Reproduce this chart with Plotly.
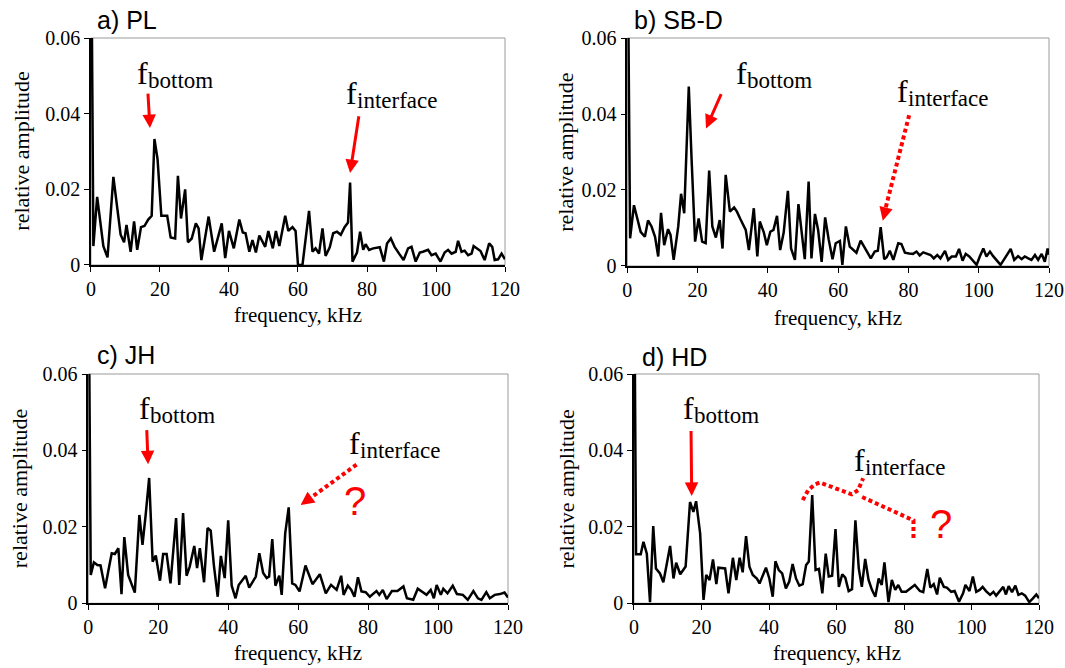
import plotly.graph_objects as go
from plotly.subplots import make_subplots

# spectra (frequency in kHz, relative amplitude)
pl_freq = [0, 0.7, 1.8, 3.6, 4.8, 6.5, 7.7, 8.6, 9.6, 10.3, 11.5, 12.5, 13.4, 14.5, 15.5, 16.6, 17.6, 18.4, 19.3,
           20.4, 22.1, 23.1, 24.4, 25.2, 26.1, 27.3, 28.1, 29.2, 30.4, 31.2, 32.0, 34.1, 35.7, 37.9, 38.9, 40.0,
           41.4, 43.0, 44.0, 44.8, 45.9, 46.8, 47.8, 48.8, 50.5, 51.4, 52.7, 53.6, 54.6, 56.3, 57.2, 58.4, 59.3,
           60.0, 61.3, 63.2, 64.2, 65.1, 66.1, 67.1, 68.0, 69.2, 70.2, 71.3, 72.4, 73.5, 74.5, 75.1, 75.8, 77.1,
           78.0, 78.9, 79.6, 80.6, 81.8, 83.7, 84.9, 85.8, 86.9, 88.0, 89.3, 90.6, 91.9, 92.9, 94.1, 95.3, 96.2,
           97.7, 98.7, 99.9, 101.3, 102.5, 103.5, 104.5, 105.7, 106.4, 107.4, 108.3, 109.3, 110.3, 110.9, 111.9,
           112.9, 114.1, 115.4, 116.3, 117.0, 118.0, 119.0, 120.0]
pl_amp = [0.10, 0.005, 0.018, 0.005, 0.002, 0.0233, 0.0145, 0.008, 0.006, 0.0106, 0.0035, 0.0115, 0.004, 0.010,
          0.0103, 0.012, 0.013, 0.0333, 0.028, 0.013, 0.013, 0.0073, 0.007, 0.0236, 0.0123, 0.020, 0.006, 0.007,
          0.011, 0.0097, 0.0013, 0.0128, 0.0035, 0.011, 0.0018, 0.009, 0.0044, 0.012, 0.0086, 0.0084, 0.0035,
          0.0066, 0.0033, 0.0078, 0.0048, 0.009, 0.0044, 0.009, 0.005, 0.013, 0.009, 0.010, 0.009, 0.0, 0.0,
          0.0143, 0.0035, 0.0044, 0.003, 0.0097, 0.0024, 0.0047, 0.0084, 0.0088, 0.008, 0.010, 0.0112, 0.0218,
          0.0009, 0.0033, 0.0088, 0.004, 0.0055, 0.004, 0.0044, 0.0047, 0.0009, 0.0057, 0.007, 0.0048, 0.003,
          0.0013, 0.0044, 0.0048, 0.0009, 0.0033, 0.0035, 0.004, 0.0026, 0.003, 0.0009, 0.0033, 0.004, 0.003,
          0.0035, 0.0064, 0.0035, 0.0038, 0.0026, 0.003, 0.005, 0.0044, 0.0037, 0.0013, 0.0057, 0.0048, 0.0013,
          0.0015, 0.003, 0.0015]

sbd_freq = [0, 0.8, 1.9, 2.8, 3.8, 5.0, 5.9, 6.9, 7.9, 8.8, 9.6, 10.5, 11.6, 12.3, 13.2, 14.5, 15.3, 16.2, 17.5,
            18.3, 19.3, 20.3, 21.3, 22.3, 23.3, 24.2, 25.2, 26.3, 27.1, 28.0, 29.2, 30.4, 31.2, 32.2, 33.7, 34.6,
            36.0, 37.0, 37.7, 38.8, 39.7, 40.7, 41.6, 42.6, 43.5, 44.5, 45.7, 46.6, 47.7, 48.7, 49.8, 50.5, 51.6,
            52.4, 53.4, 54.3, 55.3, 56.3, 57.3, 58.4, 59.3, 60.5, 61.2, 62.2, 63.3, 64.3, 65.2, 66.4, 67.6, 69.3,
            70.4, 71.3, 72.1, 73.1, 73.8, 74.7, 75.7, 77.1, 78.0, 79.0, 80.2, 81.3, 82.3, 83.2, 84.2, 85.3, 86.3,
            87.2, 88.2, 89.1, 90.4, 91.3, 92.3, 93.5, 94.4, 95.4, 96.3, 97.3, 98.2, 99.4, 100.3, 101.3, 102.2,
            103.2, 104.1, 105.1, 106.2, 107.4, 109.1, 110.1, 111.2, 112.2, 113.1, 114.1, 115.0, 116.0, 116.9,
            117.9, 118.8, 119.6, 120.0]
sbd_amp = [0.10, 0.0073, 0.016, 0.013, 0.009, 0.0077, 0.012, 0.0104, 0.0077, 0.0025, 0.014, 0.0055, 0.0097,
           0.0082, 0.0016, 0.0104, 0.019, 0.0139, 0.0472, 0.028, 0.0064, 0.0125, 0.0064, 0.006, 0.0251, 0.0104,
           0.0075, 0.0121, 0.0046, 0.024, 0.0143, 0.0154, 0.0143, 0.0123, 0.0095, 0.0042, 0.0152, 0.0025, 0.0117,
           0.009, 0.0055, 0.009, 0.0095, 0.0132, 0.0042, 0.0088, 0.0198, 0.0046, 0.0016, 0.0163, 0.0068, 0.0018,
           0.0222, 0.002, 0.0137, 0.0095, 0.0011, 0.0128, 0.007, 0.0018, 0.006, 0.0066, 0.0003, 0.0104, 0.0051,
           0.0042, 0.0035, 0.0067, 0.0046, 0.002, 0.0038, 0.004, 0.0102, 0.0018, 0.0023, 0.004, 0.0016, 0.006,
           0.0058, 0.0035, 0.0033, 0.0032, 0.0038, 0.0028, 0.0036, 0.0033, 0.0029, 0.002, 0.0029, 0.002, 0.004,
           0.0016, 0.0025, 0.0025, 0.0045, 0.0014, 0.0032, 0.0025, 0.0016, 0.0003, 0.0025, 0.0046, 0.0025, 0.0038,
           0.0026, 0.0016, 0.0003, 0.002, 0.0045, 0.0016, 0.0026, 0.0018, 0.0025, 0.002, 0.0016, 0.0029, 0.0016,
           0.0032, 0.0011, 0.0046, 0.003]

jh_freq = [0, 0.7, 1.6, 2.6, 3.5, 4.8, 5.7, 6.7, 7.6, 8.6, 9.5, 10.3, 11.4, 12.4, 13.3, 14.6, 15.5, 16.4, 17.4,
           18.4, 19.3, 20.5, 21.4, 22.4, 23.5, 25.1, 26.0, 27.1, 28.1, 29.0, 30.3, 31.1, 31.9, 33.1, 34.1, 35.0,
           35.9, 37.0, 37.9, 39.0, 40.0, 41.0, 42.1, 43.0, 45.0, 46.0, 47.9, 48.9, 50.0, 51.0, 51.7, 52.6, 53.5,
           54.6, 55.3, 56.3, 57.3, 58.3, 59.2, 60.4, 62.1, 64.1, 66.2, 67.9, 69.4, 71.0, 72.3, 73.0, 74.2, 75.2,
           76.1, 77.1, 78.1, 79.3, 80.5, 81.6, 82.4, 83.2, 84.2, 85.3, 86.8, 88.4, 90.1, 91.1, 92.9, 94.2, 95.5,
           96.7, 97.9, 98.8, 99.6, 100.8, 101.5, 102.7, 104.2, 105.4, 107.1, 108.5, 110.1, 111.4, 112.4, 113.8,
           114.8, 116.2, 117.7, 119.0, 120.0]
jh_amp = [0.10, 0.0074, 0.0107, 0.010, 0.0099, 0.0039, 0.0083, 0.0131, 0.0129, 0.0144, 0.0024, 0.0173, 0.0074,
          0.0048, 0.0028, 0.0231, 0.0153, 0.0231, 0.0328, 0.0109, 0.0125, 0.0059, 0.0129, 0.0129, 0.0052, 0.0223,
          0.0048, 0.0236, 0.0072, 0.0096, 0.015, 0.0092, 0.0144, 0.0055, 0.0197, 0.019, 0.010, 0.0017, 0.0124,
          0.0066, 0.0217, 0.0046, 0.0013, 0.0048, 0.0072, 0.0041, 0.007, 0.0131, 0.0079, 0.0066, 0.007, 0.0168,
          0.0046, 0.0072, 0.0022, 0.0183, 0.0251, 0.0052, 0.0048, 0.0031, 0.0099, 0.005, 0.0076, 0.0026, 0.0048,
          0.0035, 0.0072, 0.0022, 0.0046, 0.0035, 0.0017, 0.0068, 0.0031, 0.0029, 0.0017, 0.0026, 0.0032, 0.0022,
          0.0035, 0.0011, 0.0032, 0.0032, 0.0044, 0.0013, 0.0009, 0.0038, 0.0029, 0.0022, 0.0035, 0.0013, 0.0048,
          0.0022, 0.0038, 0.0026, 0.0046, 0.0024, 0.0022, 0.0009, 0.0032, 0.0013, 0.0009, 0.0029, 0.0013, 0.0022,
          0.0024, 0.0028, 0.0015]

hd_freq = [0, 0.6, 2.0, 2.8, 3.8, 4.75, 5.7, 6.5, 7.7, 8.7, 10.7, 11.7, 12.5, 13.7, 15.3, 16.6, 17.6, 18.4, 19.6,
           20.6, 21.4, 22.4, 23.4, 24.4, 25.0, 27.0, 28.0, 29.3, 30.3, 31.3, 32.2, 33.2, 34.2, 35.2, 36.4, 37.2,
           39.1, 40.1, 41.1, 41.9, 42.9, 43.9, 45.0, 46.0, 47.0, 48.0, 49.0, 50.0, 51.0, 51.8, 52.8, 53.8, 54.8,
           55.8, 56.8, 57.7, 58.7, 59.7, 60.7, 61.7, 62.6, 63.6, 64.6, 65.6, 66.6, 67.5, 68.5, 69.5, 70.5, 71.5,
           72.5, 73.4, 74.2, 75.4, 76.4, 77.4, 78.3, 79.3, 80.6, 82.0, 83.2, 84.7, 85.7, 86.9, 87.8, 88.8, 89.8,
           90.6, 91.8, 92.7, 94.0, 95.0, 96.3, 97.5, 98.2, 99.4, 100.4, 101.4, 102.4, 103.3, 104.3, 105.5, 106.5,
           107.3, 108.2, 109.4, 110.2, 111.0, 112.0, 113.0, 113.9, 114.9, 115.9, 117.1, 118.2, 119.2, 120.0]
hd_amp = [0.10, 0.0128, 0.0128, 0.0161, 0.013, 0.0003, 0.0202, 0.0091, 0.0078, 0.0055, 0.015, 0.0065, 0.0106,
          0.0076, 0.0096, 0.0265, 0.0239, 0.0267, 0.0183, 0.0009, 0.0074, 0.0061, 0.0115, 0.005, 0.0093, 0.0091,
          0.0026, 0.0119, 0.0061, 0.0119, 0.0081, 0.0176, 0.0096, 0.0074, 0.0065, 0.0052, 0.0093, 0.0065, 0.0017,
          0.011, 0.0087, 0.0078, 0.0039, 0.0057, 0.0103, 0.0065, 0.0046, 0.005, 0.01, 0.0109, 0.0283, 0.0087,
          0.009, 0.0026, 0.013, 0.007, 0.0072, 0.0194, 0.0043, 0.0076, 0.0067, 0.0032, 0.0037, 0.0217, 0.0091,
          0.0043, 0.0116, 0.0061, 0.0035, 0.0017, 0.0065, 0.0048, 0.0107, 0.0003, 0.0061, 0.0035, 0.0048, 0.003,
          0.003, 0.0039, 0.0048, 0.0032, 0.0029, 0.009, 0.0041, 0.005, 0.0023, 0.0067, 0.0043, 0.0041, 0.003,
          0.0032, 0.0004, 0.0026, 0.0048, 0.0032, 0.007, 0.003, 0.0035, 0.0043, 0.0032, 0.0022, 0.003, 0.002,
          0.003, 0.0043, 0.0023, 0.0045, 0.0029, 0.0046, 0.0022, 0.0026, 0.002, 0.0003, 0.0013, 0.0023, 0.0013]

panel_titles = ["a) PL", "b) SB-D", "c) JH", "d) HD"]
y_ticks = [0, 0.02, 0.04, 0.06]
y_ticktext = ["0", "0.02", "0.04", "0.06"]
x_ticks = [0, 20, 40, 60, 80, 100, 120]

SERIF = "Liberation Serif, Times New Roman, serif"
SANS = "Liberation Sans, Arial, sans-serif"
RED = "#ff0000"

fig = make_subplots(rows=2, cols=2)

series = [(pl_freq, pl_amp), (sbd_freq, sbd_amp), (jh_freq, jh_amp), (hd_freq, hd_amp)]
cells = [(1, 1), (1, 2), (2, 1), (2, 2)]
for (fx, fy), (r, c) in zip(series, cells):
    fig.add_trace(go.Scatter(x=fx, y=fy, mode="lines", line=dict(color="black", width=2.5),
                             showlegend=False, hoverinfo="skip"), row=r, col=c)

x_domains = [[0.0854, 0.4742], [0.589, 0.985], [0.0829, 0.477], [0.5953, 0.9756]]
y_domains = [[0.6033, 0.9431], [0.6018, 0.9431], [0.0969, 0.4401], [0.0969, 0.4401]]

for i in range(4):
    sfx = "" if i == 0 else str(i + 1)
    fig.layout["xaxis" + sfx].update(
        domain=x_domains[i], range=[0, 120], tickvals=x_ticks, ticks="outside", ticklen=5,
        tickcolor="black", showline=True, linecolor="black", linewidth=1.5, showgrid=False,
        zeroline=False, automargin=False, tickfont=dict(family=SERIF, size=20, color="black"))
    fig.layout["yaxis" + sfx].update(
        domain=y_domains[i], range=[0, 0.06], tickvals=y_ticks, ticktext=y_ticktext, ticks="outside",
        ticklen=5, tickcolor="black", showline=True, linecolor="black", linewidth=1.5, showgrid=False,
        zeroline=False, automargin=False, tickfont=dict(family=SERIF, size=20, color="black"))
    # grey frame on top and right
    fig.add_shape(type="rect", xref="x%s domain" % sfx, yref="y%s domain" % sfx, x0=0, x1=1, y0=0, y1=1,
                  line=dict(color="#9a9a9a", width=1), layer="below")

# panel titles and axis titles
title_pos = [(0.0892, 0.970), (0.5934, 0.970), (0.0892, 0.4686), (0.601, 0.4656)]
xtitle_pos = [(0.2798, 0.5284), (0.787, 0.524), (0.2798, 0.0225), (0.7855, 0.0225)]
ytitle_pos = [(0.0207, 0.773), (0.531, 0.772), (0.019, 0.268), (0.532, 0.268)]
for i in range(4):
    fig.add_annotation(text=panel_titles[i], xref="paper", yref="paper", x=title_pos[i][0], y=title_pos[i][1],
                       xanchor="left", yanchor="middle", showarrow=False,
                       font=dict(family=SANS, size=25, color="black"))
    fig.add_annotation(text="frequency, kHz", xref="paper", yref="paper", x=xtitle_pos[i][0],
                       y=xtitle_pos[i][1], xanchor="center", yanchor="middle", showarrow=False,
                       font=dict(family=SERIF, size=21, color="black"))
    fig.add_annotation(text="relative amplitude", xref="paper", yref="paper", x=ytitle_pos[i][0],
                       y=ytitle_pos[i][1], xanchor="center", yanchor="middle", showarrow=False, textangle=-90,
                       font=dict(family=SERIF, size=22, color="black"))


def label(sub, xr, yr, x, y):
    # big "f" left of the anchor point, subscript right of it and a little lower
    fig.add_annotation(text="f", xref=xr, yref=yr, x=x, y=y, xanchor="right", yanchor="bottom",
                       showarrow=False, font=dict(family=SERIF, size=32, color="black"))
    fig.add_annotation(text=sub, xref=xr, yref=yr, x=x, y=y, xanchor="left", yanchor="bottom", yshift=-2,
                       xshift=-4, showarrow=False, font=dict(family=SERIF, size=23, color="black"))


def solid_arrow(xr, yr, tail, tip):
    fig.add_annotation(x=tip[0], y=tip[1], ax=tail[0], ay=tail[1], xref=xr, yref=yr, axref=xr, ayref=yr,
                       text="", showarrow=True, arrowhead=2, arrowsize=0.9, arrowwidth=3, arrowcolor=RED)


def dotted_arrow(xr, yr, tail, end, tip, head_off):
    fig.add_shape(type="line", xref=xr, yref=yr, x0=tail[0], y0=tail[1], x1=end[0], y1=end[1],
                  line=dict(color=RED, width=4, dash="4px,3px"))
    fig.add_annotation(x=tip[0], y=tip[1], ax=head_off[0], ay=head_off[1], xref=xr, yref=yr,
                       text="", showarrow=True, arrowhead=2, arrowsize=0.9, arrowwidth=3, arrowcolor=RED)


def question(xr, yr, x, y):
    fig.add_annotation(text="?", xref=xr, yref=yr, x=x, y=y, showarrow=False,
                       font=dict(family=SANS, size=40, color=RED))


# a) PL
label("bottom", "x", "y", 17.1, 0.0455)
solid_arrow("x", "y", (16.5, 0.0457), (17.1, 0.0362))
label("interface", "x", "y", 77.7, 0.0402)
solid_arrow("x", "y", (77.7, 0.0397), (75.1, 0.0243))

# b) SB-D
label("bottom", "x2", "y2", 34.7, 0.0455)
solid_arrow("x2", "y2", (26.9, 0.0456), (22.4, 0.0362))
label("interface", "x2", "y2", 80.4, 0.0407)
dotted_arrow("x2", "y2", (80.2, 0.0397), (73.3, 0.0145), (72.7, 0.0119), (2.9, -11.6))

# c) JH
label("bottom", "x3", "y3", 18.3, 0.0460)
solid_arrow("x3", "y3", (16.7, 0.0457), (17.1, 0.0364))
label("interface", "x3", "y3", 78.4, 0.0366)
dotted_arrow("x3", "y3", (76.7, 0.0363), (63.0, 0.0272), (60.7, 0.0257), (9.7, -7.1))
question("x3", "y3", 76.2, 0.0267)

# d) HD
label("bottom", "x4", "y4", 18.3, 0.0460)
solid_arrow("x4", "y4", (16.9, 0.0455), (17.1, 0.0281))
label("interface", "x4", "y4", 69.1, 0.0323)
fig.add_shape(type="path", xref="x4", yref="y4",
              path="M 50.0,0.0270 L 51.6,0.0296 L 53.6,0.0311 L 55.1,0.0316 L 64.5,0.0285 L 66.4,0.0296 "
                   "L 67.9,0.0327 M 67.6,0.0278 L 82.8,0.0217 L 82.8,0.0170",
              line=dict(color=RED, width=4, dash="4px,3px"))
question("x4", "y4", 91.0, 0.0207)

fig.update_layout(width=1065, height=668, margin=dict(l=0, r=0, t=0, b=0),
                  paper_bgcolor="white", plot_bgcolor="white")

# the page's default body margin would push the fixed-size figure off the window
fig.write_html("out.html", config={"displayModeBar": False},
               post_script="document.body.style.margin='0px';")
